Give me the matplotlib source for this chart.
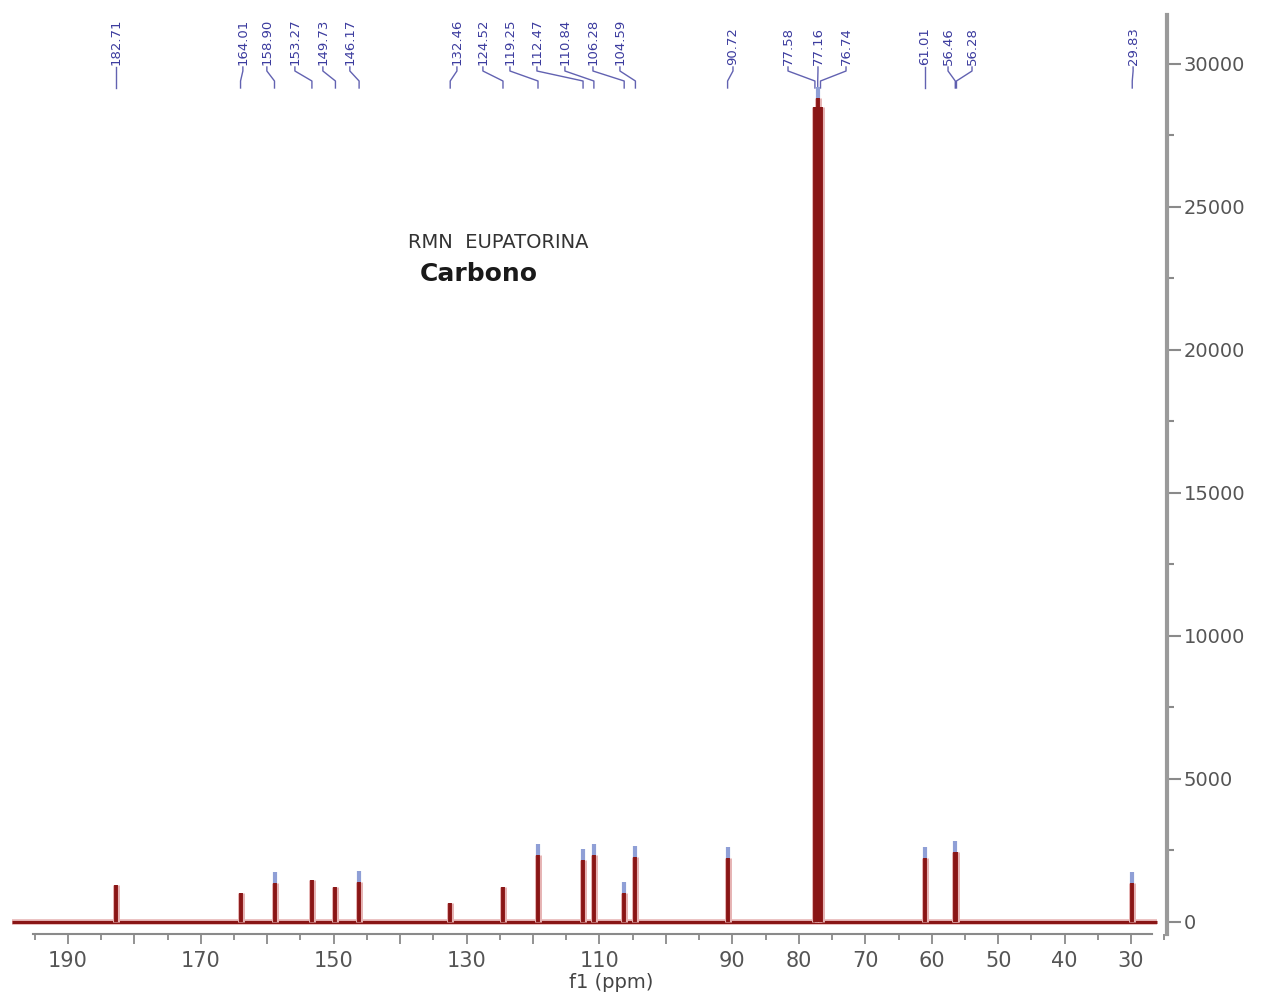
import matplotlib
matplotlib.use('Agg')
import matplotlib.pyplot as plt
import matplotlib.transforms as mtransforms
from matplotlib.ticker import MultipleLocator, FixedLocator

# 13C peak list (ppm, intensity at red top)
peak_ppm = [182.71, 164.01, 158.90, 153.27, 149.73, 146.17, 132.46, 124.52,
            119.25, 112.47, 110.84, 106.28, 104.59, 90.72, 77.58, 77.16,
            76.74, 61.01, 56.46, 56.28, 29.83]
peak_height = [1290, 1010, 1360, 1470, 1220, 1400, 660, 1220,
               2340, 2170, 2340, 1010, 2270, 2240, 28500, 28800,
               28500, 2240, 2450, 2450, 1360]
# peaks carrying the blue peak-pick mark on top
peak_marked = [False, False, True, False, False, True, False, False,
               True, True, True, True, True, True, False, True,
               False, True, True, False, True]
peak_labels = ['182.71', '164.01', '158.90', '153.27', '149.73', '146.17',
               '132.46', '124.52', '119.25', '112.47', '110.84', '106.28',
               '104.59', '90.72', '77.58', '77.16', '76.74', '61.01',
               '56.46', '56.28', '29.83']

baseline_ppm = [198.4, 26.1]
baseline_val = [0, 0]

x_ticks_major = list(range(30, 200, 10))
x_tick_text = {190: '190', 170: '170', 150: '150', 130: '130', 110: '110',
               90: '90', 80: '80', 70: '70', 60: '60', 50: '50', 40: '40', 30: '30'}
y_ticks = [0, 5000, 10000, 15000, 20000, 25000, 30000]

# where the rotated labels sit along the top (ppm), spread apart like the original
label_x = [182.71, 163.66, 160.05, 155.83, 151.62, 147.56,
           131.45, 127.54, 123.47, 119.41, 115.20, 110.98, 106.92,
           89.91, 81.63, 77.12, 72.90, 61.01, 57.55, 53.94, 29.70]

W, H = 1261, 994
fig = plt.figure(figsize=(W / 100, H / 100), dpi=100)
ax = fig.add_axes([12 / W, 1 - 934 / H, (1167 - 12) / W, (934 - 15) / H])

dark_red = '#8a1616'
halo = '#e6b3b3'
blue = '#3b3b9e'
grey = '#555555'

ax.set_xlim(198.4, 24.6)
ax.set_ylim(-420, 31713)

# baseline
ax.plot(baseline_ppm, baseline_val, color=halo, lw=4, solid_capstyle='butt', zorder=1)
ax.plot(baseline_ppm, baseline_val, color=dark_red, lw=2.2, solid_capstyle='butt', zorder=2)

# peaks
ax.vlines(peak_ppm, 0, peak_height, color=halo, lw=5, zorder=2)
ax.vlines(peak_ppm, 0, peak_height, color=dark_red, lw=2.8, zorder=3)
for p, h, m in zip(peak_ppm, peak_height, peak_marked):
    if m:
        ax.vlines(p, h, h + 380, color='#8f9fd6', lw=3, zorder=3)

# peak labels with leader lines
trans = mtransforms.blended_transform_factory(ax.transData, ax.transAxes)
def fy(py):
    return (934 - py) / 919

for lab, pk, lx in zip(peak_labels, peak_ppm, label_x):
    ax.plot([lx, lx, pk, pk], [fy(67), fy(71), fy(81), fy(88)], transform=trans,
            color=blue, lw=1, clip_on=False, alpha=0.8)
    ax.text(lx, fy(65), lab, transform=trans, rotation=90,
            ha='center', va='bottom', color=blue, fontsize=9.5, clip_on=False)

# axes styling
for s in ['top', 'left']:
    ax.spines[s].set_visible(False)
ax.spines['right'].set_color('#9a9a9a')
ax.spines['right'].set_linewidth(3)
ax.spines['bottom'].set_color('#8a8a8a')
ax.spines['bottom'].set_linewidth(1.5)
ax.spines['bottom'].set_bounds(195.3, 26.85)

ax.yaxis.tick_right()
ax.set_yticks(y_ticks)
ax.set_yticklabels([str(v) for v in y_ticks])
ax.yaxis.set_minor_locator(MultipleLocator(2500))
ax.tick_params(axis='y', which='major', direction='out', length=10, width=1.5,
               color='#8a8a8a', labelsize=14, labelcolor=grey, pad=2)
ax.tick_params(axis='y', which='minor', direction='out', length=5, width=1.5,
               color='#8a8a8a')

ax.xaxis.set_major_locator(FixedLocator(x_ticks_major))
ax.set_xticklabels([x_tick_text.get(t, '') for t in x_ticks_major])
ax.xaxis.set_minor_locator(MultipleLocator(5))
ax.tick_params(axis='x', which='major', direction='out', length=7, width=1.3,
               color='#8a8a8a', labelsize=15, labelcolor=grey, pad=5)
ax.tick_params(axis='x', which='minor', direction='out', length=4, width=1.3,
               color='#8a8a8a')

ax.set_xlabel('f1 (ppm)', fontsize=14, color='#444444', va='center')
ax.xaxis.set_label_coords((611 - 12) / (1167 - 12), fy(983))

fig.text(408 / W, 1 - 242 / H, 'RMN  EUPATORINA', fontsize=14, color='#333333',
         ha='left', va='center')
fig.text(420 / W, 1 - 274 / H, 'Carbono', fontsize=18, fontweight='bold',
         color='#1a1a1a', ha='left', va='center')

fig.savefig('out.png', dpi=100)
